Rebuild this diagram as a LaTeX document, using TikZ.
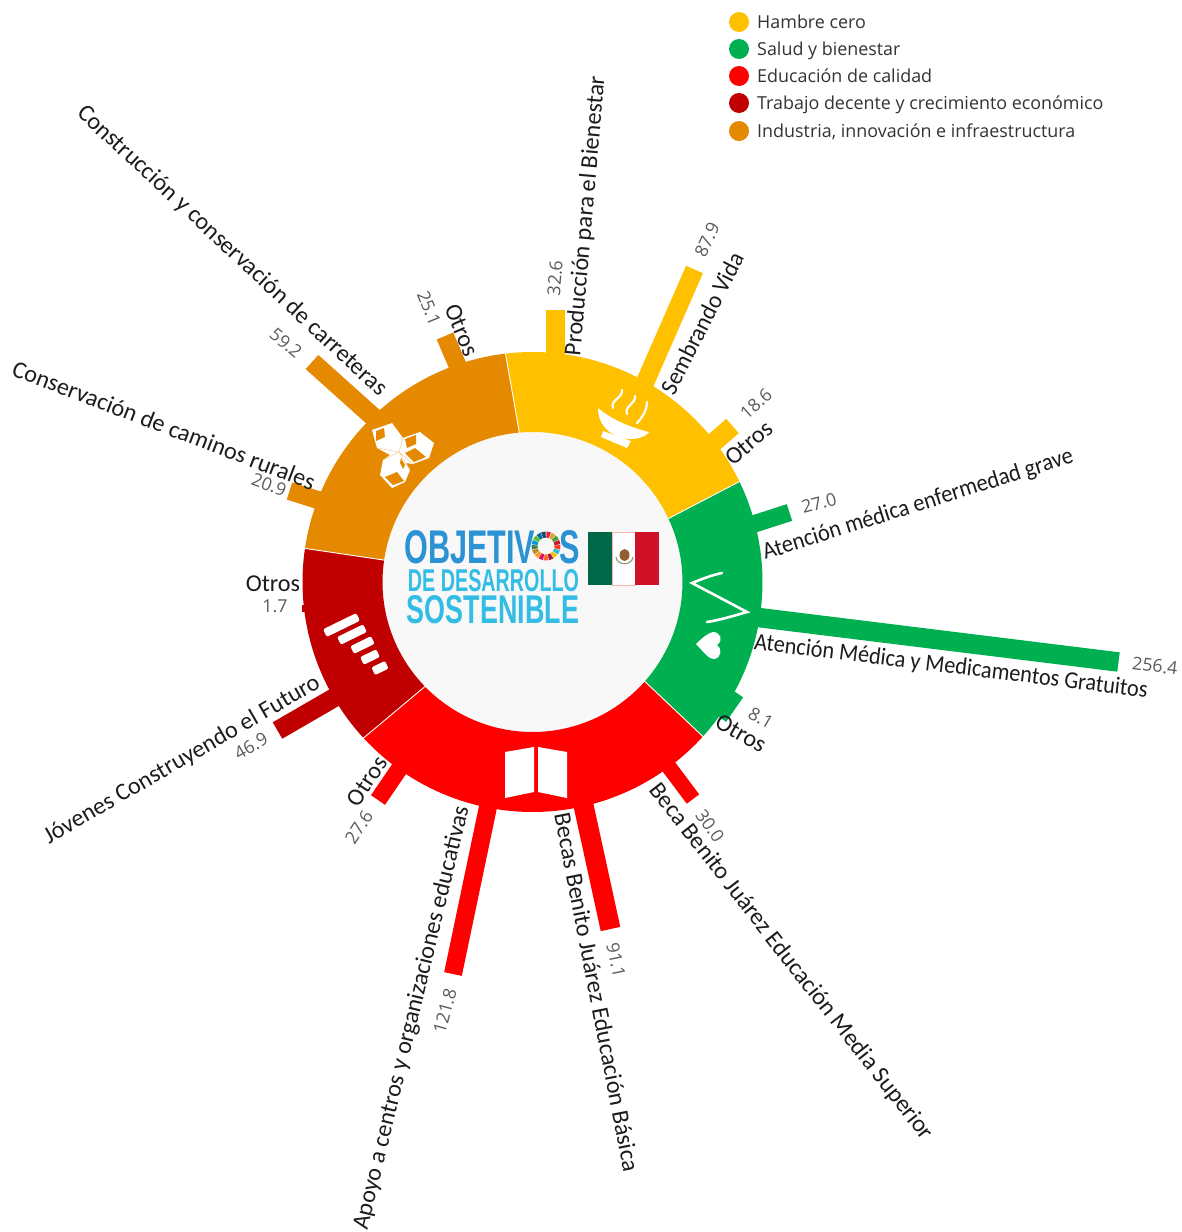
\documentclass[tikz,border=0pt]{standalone}
\usepackage{fontspec}
\usepackage{graphicx}
\setmainfont{Carlito}
\newfontfamily\legfont{Open Sans}
\newfontfamily\logofont{Liberation Sans}[BoldFont={Liberation Sans Bold}]
\definecolor{cY}{HTML}{FFC000}
\definecolor{cG}{HTML}{00B050}
\definecolor{cR}{HTML}{FF0000}
\definecolor{cD}{HTML}{C00000}
\definecolor{cO}{HTML}{E58A00}
\definecolor{cIn}{HTML}{F8F8F8}
\definecolor{cLab}{HTML}{1C1C1C}
\definecolor{cVal}{HTML}{5A5A5A}
\definecolor{cLogoA}{HTML}{2B92D3}
\definecolor{cLogoB}{HTML}{33BDE4}
\definecolor{flagG}{HTML}{006847}
\definecolor{flagR}{HTML}{CE1126}
\definecolor{flagW}{HTML}{8A9A7A}
\tikzset{
 lab/.style={font=\fontsize{24.2}{26}\selectfont,text=cLab,inner sep=0pt},
 val/.style={font=\legfont\fontsize{17.8}{20}\selectfont,text=cVal,inner sep=0pt},
 leg/.style={font=\legfont\fontsize{17.9}{20}\selectfont,text=cLab!90,inner sep=0pt,anchor=base west},
 icon/.style={fill=white,draw=none},
 iconline/.style={draw=white,line width=2.2pt,line cap=round,fill=none},
 stepbox/.style={fill=white,draw=none,inner sep=0pt,minimum height=8.5pt,rounded corners=2pt,rotate=26},
}
\newcommand{\spoke}[6]{\draw[draw=#1,line width=#2pt] (#3,#4) -- (#5,#6);}
% colour, outer start, outer end, inner end, inner start
\newcommand{\sector}[5]{\fill[#1] (#2:230pt) arc[start angle=#2,end angle=#3,radius=230pt] -- (#4:150pt) arc[start angle=#4,end angle=#5,radius=150pt] -- cycle;}
\newcommand{\squeezed}[2]{\scalebox{#1}[1]{#2}}
\begin{document}
\begin{tikzpicture}[x=1pt,y=-1pt]
\useasboundingbox (0,0) rectangle (1182,1232);
% bars
\spoke{cY}{19}{555.5}{380}{555.5}{309.5}
\spoke{cY}{18.4}{640}{394}{694.5}{269.5}
\spoke{cY}{19}{705}{450}{732.5}{426}
\spoke{cG}{17.5}{740}{528.4}{789.5}{512.5}
\spoke{cG}{19.5}{735}{614.6}{1118.5}{662}
\spoke{cG}{10}{722}{719}{739}{694.5}
\spoke{cR}{15.5}{660}{755}{693}{799}
\spoke{cR}{20}{578}{780}{610.5}{929}
\spoke{cR}{18}{493}{783}{453}{974}
\spoke{cR}{17}{408}{756}{378}{800}
\spoke{cD}{19}{350}{688.5}{277.5}{730.5}
\spoke{cD}{7}{310}{608.5}{301.5}{608.5}
\spoke{cO}{18}{340}{507}{289.5}{491}
\spoke{cO}{19}{390}{432}{312}{362}
\spoke{cO}{18}{468}{390}{445}{336}
% ring
\begin{scope}[shift={(532.5,582)}]
\fill[cIn] (0,0) circle[radius=150pt];
\sector{cY}{25.9}{96.75}{95}{25}
\sector{cG}{-42.2}{25.9}{25}{-41.5}
\sector{cR}{222.7}{317.8}{318.5}{224.2}
\sector{cD}{171.6}{222.7}{224.2}{171.6}
\sector{cO}{96.75}{171.6}{171.6}{95}
\draw[white,line width=.9pt] (25.9:231pt) -- (25:149pt);
\draw[white,line width=.9pt] (96.75:231pt) -- (95:149pt);
\draw[white,line width=.9pt] (171.6:231pt) -- (171.6:149pt);
\draw[white,line width=.9pt] (222.7:231pt) -- (224.2:149pt);
\draw[white,line width=.9pt] (-42.2:231pt) -- (-41.5:149pt);
\end{scope}
% bowl icon
\fill[icon] (598,408) .. controls (612,420) and (632,428) .. (649,432) .. controls (646,437) and (634,441) .. (622,438) .. controls (608,434) and (598,424) .. cycle;
\fill[icon] (603,431) -- (631,441) -- (627,448) -- (601,437) -- cycle;
\draw[iconline] (622,390) .. controls (623,398) and (610,400) .. (613,408);
\draw[iconline] (635,396) .. controls (636,404) and (624,406) .. (627,414);
\draw[iconline] (647,402) .. controls (647,410) and (642,418) .. (637,423);
% cubes icon
\fill[icon] (372,430) -- (392,423) -- (403,438) -- (420,432) -- (434,443) -- (429,458) -- (413,464) -- (406,463) -- (410,470) -- (405,482) -- (392,488) -- (380,475) -- (383,460) -- (390,455) -- (377,448) -- cycle;
\fill[cO] (376,431) -- (384,428) -- (385,437) -- (376,441) -- cycle;
\fill[cO] (405,439) -- (416,435) -- (416,444) -- (407,448) -- cycle;
\fill[cO] (405,453) -- (415,448) -- (426,457) -- (414,462) -- cycle;
\fill[cO] (385,477) -- (397,472) -- (404,481) -- (393,485) -- cycle;
\fill[cO] (401,458) -- (405,465) -- (403,469) -- (400,463) -- cycle;
\draw[cO!45,line width=.5pt] (377,448) -- (399,452) -- (403,438) (399,452) -- (383,460) (399,452) -- (413,464) (399,452) -- (410,470);
% step bars icon
\node[stepbox,minimum width=37pt] (s1) at (341.5,625) {};
\node[stepbox,minimum width=29pt] (s2) at (352,634.5) {};
\node[stepbox,minimum width=23pt] (s3) at (362.5,645) {};
\node[stepbox,minimum width=18pt] (s4) at (370,657) {};
\node[stepbox,minimum width=15pt] (s5) at (380,668) {};
% book icon
\fill[icon] (505,752) -- (534,747) -- (534,792) -- (505,798) -- cycle;
\fill[icon] (538,747) -- (567,752) -- (567,798) -- (538,792) -- cycle;
% pulse and heart icon
\draw[draw=white,line width=2.6pt,line cap=round,line join=miter,fill=none] (722,573) .. controls (712,575) and (702,579) .. (692,583) -- (747,612) .. controls (733,616) and (720,620) .. (707,622);
\fill[icon] (696,644) .. controls (702,638) and (708,633) .. (713,632) .. controls (720,632) and (724,640) .. (717,645) .. controls (722,648) and (722,658) .. (714,659) .. controls (708,659) and (702,650) .. cycle;
% logo
\node[inner sep=0pt,text=cLogoA] (logoa) at (492,547) {\resizebox{175pt}{33pt}{\logofont\bfseries OBJETIV\phantom{O}S}};
\node[inner sep=0pt,text=cLogoB] (logob) at (493.5,580.5) {\resizebox{171pt}{22pt}{\logofont\bfseries DE DESARROLLO}};
\node[inner sep=0pt,text=cLogoB] (logoc) at (493,609.5) {\resizebox{172pt}{28pt}{\logofont\bfseries SOSTENIBLE}};
\begin{scope}[shift={(546,546)}]
\foreach \c [count=\i] in {E5243B,DDA63A,4C9F38,C5192D,FF3A21,26BDE2,FCC30B,A21942,FD6925,DD1367,FD9D24,BF8B2E,3F7E44,0A97D9,56C02B,00689D,19486A}{
 \definecolor{sdg}{HTML}{\c}
 \pgfmathsetmacro{\sa}{90-(\i-1)*360/17-1.5}
 \pgfmathsetmacro{\sb}{90-\i*360/17+1.5}
 \fill[sdg] (\sa:14.5pt) arc[start angle=\sa,end angle=\sb,radius=14.5pt] -- (\sb:8.5pt) arc[start angle=\sb,end angle=\sa,radius=8.5pt] -- cycle;
}
\end{scope}
% flag
\fill[white] (612,532) rectangle (635,585);
\draw[red!30,line width=.6pt] (612,532) rectangle (635,585);
\fill[flagG] (588,532) rectangle (612,585);
\fill[flagR] (635,532) rectangle (659,585);
\fill[brown!75!black] (624.5,555) ellipse[x radius=5pt,y radius=6pt];
\draw[flagW,line width=1.1pt] (616,557) .. controls (617,566) and (632,566) .. (633,557);
% labels
\node[lab,rotate=85] (l1) at (586,216) {Producción para el Bienestar};
\node[lab,rotate=63] (l2) at (702,323) {\squeezed{.96}{Sembrando Vida}};
\node[lab,rotate=40] (l3) at (749,443) {Otros};
\node[lab,rotate=17.5] (l4) at (918,505) {\squeezed{.93}{Atención médica enfermedad grave}};
\node[lab,rotate=-7] (l5) at (951,667) {\squeezed{.92}{Atención Médica y Medicamentos Gratuitos}};
\node[lab,rotate=-30] (l6) at (741,733) {Otros};
\node[lab,rotate=-52] (l7) at (791,962) {Beca Benito Juárez Educación Media Superior};
\node[lab,rotate=-79] (l8) at (597,992) {Becas Benito Juárez Educación Básica};
\node[lab,rotate=76.5] (l9) at (412,1018) {Apoyo a centros y organizaciones educativas};
\node[lab,rotate=57] (l10) at (367,781) {Otros};
\node[lab,rotate=30] (l11) at (182,760) {Jóvenes Construyendo el Futuro};
\node[lab] (l12) at (273,584) {Otros};
\node[lab,rotate=-21] (l13) at (164,425) {Conservación de caminos rurales};
\node[lab,rotate=-43] (l14) at (232,251) {Construcción y conservación de carreteras};
\node[lab,rotate=-67] (l15) at (462,330) {Otros};
% values
\node[val,rotate=85] (v1) at (555,278) {32.6};
\node[val,rotate=65] (v2) at (707,240) {87.9};
\node[val,rotate=42] (v3) at (756,404) {18.6};
\node[val,rotate=15] (v4) at (819,503) {27.0};
\node[val,rotate=-7] (v5) at (1155,666) {256.4};
\node[val,rotate=-30] (v6) at (761,718) {8.1};
\node[val,rotate=-55] (v7) at (710,826) {30.0};
\node[val,rotate=-78] (v8) at (616,960) {91.1};
\node[val,rotate=75] (v9) at (445,1011) {121.8};
\node[val,rotate=57] (v10) at (359,827) {27.6};
\node[val,rotate=30] (v11) at (251,746) {46.9};
\node[val] (v12) at (275,606) {1.7};
\node[val,rotate=-20] (v13) at (269,485) {20.9};
\node[val,rotate=-40] (v14) at (286,343) {59.2};
\node[val,rotate=-68] (v15) at (429,308) {25.1};
% legend
\foreach \y/\c/\t [count=\i] in {22/cY/Hambre cero,49/cG/Salud y bienestar,76/cR/Educación de calidad,103/cD/Trabajo decente y crecimiento económico,131/cO/{Industria, innovación e infraestructura}}{
 \fill[\c] (739,\y) circle[radius=10pt];
 \node[leg] (leg\i) at (757,\y+6) {\t};
}
\end{tikzpicture}
\end{document}
